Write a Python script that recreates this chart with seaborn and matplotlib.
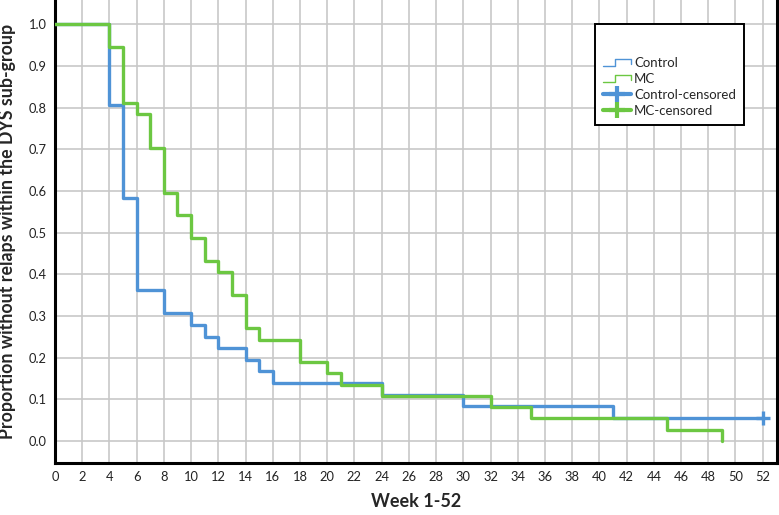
import numpy as np
import pandas as pd
import matplotlib
matplotlib.use('Agg')
import matplotlib.pyplot as plt
from matplotlib.lines import Line2D
from matplotlib.legend_handler import HandlerBase
import seaborn as sns

# Kaplan-Meier steps (week, proportion without relapse)
control_weeks = [0, 4, 5, 6, 8, 10, 11, 12, 14, 15, 16, 24, 30, 41, 52]
control_surv = [1.0, 0.806, 0.583, 0.361, 0.306, 0.278, 0.250, 0.222, 0.194,
                0.167, 0.139, 0.111, 0.083, 0.056, 0.056]
mc_weeks = [0, 4, 5, 6, 7, 8, 9, 10, 11, 12, 13, 14, 15, 18, 20, 21, 24, 32, 35, 45, 49]
mc_surv = [1.0, 0.946, 0.811, 0.784, 0.703, 0.595, 0.541, 0.486, 0.432, 0.405,
           0.351, 0.270, 0.243, 0.189, 0.162, 0.135, 0.108, 0.081, 0.054, 0.027, 0.0]
control_censored_weeks = [52]
control_censored_surv = [0.056]

groups = ['Control', 'MC']
x_ticks = list(range(0, 53, 2))
y_ticks = [0.0, 0.1, 0.2, 0.3, 0.4, 0.5, 0.6, 0.7, 0.8, 0.9, 1.0]

BLUE = '#4f93d6'
GREEN = '#6cc742'
palette = {'Control': BLUE, 'MC': GREEN}

df = pd.concat([
    pd.DataFrame({'week': control_weeks, 'surv': control_surv, 'group': 'Control'}),
    pd.DataFrame({'week': mc_weeks, 'surv': mc_surv, 'group': 'MC'}),
], ignore_index=True)

sns.set_style('white')
plt.rcParams['font.family'] = ['Lato', 'DejaVu Sans']

fig = plt.figure(figsize=(7.79, 5.15), dpi=100)
ax = fig.add_axes([55 / 779, 52 / 515, 722 / 779, 463 / 515])

sns.lineplot(data=df, x='week', y='surv', hue='group', hue_order=groups, palette=palette,
             estimator=None, sort=False, drawstyle='steps-post', linewidth=2.4,
             legend=False, ax=ax, zorder=3)
sns.scatterplot(x=control_censored_weeks, y=control_censored_surv, marker='+', s=110,
                color=BLUE, linewidth=2.4, ax=ax, zorder=4, legend=False)

ax.set_xlim(0, 53.05)
ax.set_ylim(-0.053, 1.058)
ax.set_xticks(x_ticks)
ax.set_xticklabels([str(t) for t in x_ticks])
ax.set_yticks(y_ticks)
ax.set_yticklabels([f'{t:.1f}' for t in y_ticks])
ax.tick_params(length=0, labelsize=9.3, colors='#222222')
ax.tick_params(axis='x', pad=6)
ax.tick_params(axis='y', pad=6)
ax.grid(True, color='#c8c8c8', linewidth=1.2, zorder=0)

for side in ['left', 'bottom', 'right']:
    ax.spines[side].set_color('black')
    ax.spines[side].set_linewidth(2.2)
ax.spines['top'].set_visible(False)

ax.set_xlabel('Week 1-52', fontsize=13, fontweight='bold', va='top')
ax.xaxis.set_label_coords(0.5, -0.064)
ax.set_ylabel('Proportion without relaps within the DYS sub-group', fontsize=12.8,
              fontweight='bold')
ax.yaxis.set_label_coords(-0.054, 0.5)


class StepHandler(HandlerBase):
    def __init__(self, color):
        super().__init__()
        self.color = color

    def create_artists(self, legend, orig_handle, xdescent, ydescent, width, height,
                       fontsize, trans):
        x0, y0 = -xdescent, -ydescent
        xs = [x0, x0 + 0.45 * width, x0 + 0.45 * width, x0 + width, x0 + width]
        ys = [y0 + 0.1 * height, y0 + 0.1 * height, y0 + 0.85 * height,
              y0 + 0.85 * height, y0 + 0.35 * height]
        line = Line2D(xs, ys, color=self.color, linewidth=1.0, transform=trans)
        return [line]


h_control = Line2D([], [], color=BLUE)
h_mc = Line2D([], [], color=GREEN)
h_cc = Line2D([], [], color=BLUE, linewidth=3, marker='+', markersize=11, markeredgewidth=3)
h_mcc = Line2D([], [], color=GREEN, linewidth=3, marker='+', markersize=11, markeredgewidth=3)

leg = ax.legend([h_control, h_mc, h_cc, h_mcc],
                ['Control', 'MC', 'Control-censored', 'MC-censored'],
                handler_map={h_control: StepHandler(BLUE), h_mc: StepHandler(GREEN)},
                loc='upper left', bbox_to_anchor=(0.748, 0.948), borderaxespad=0,
                title=' ', title_fontsize=17, fontsize=9.5, handlelength=2.1,
                handletextpad=0.25, labelspacing=0.3, borderpad=0.6,
                fancybox=False, framealpha=1, edgecolor='black')
leg.get_frame().set_linewidth(1.4)
leg._legend_box.align = 'left'

fig.savefig('out.png', dpi=100)
